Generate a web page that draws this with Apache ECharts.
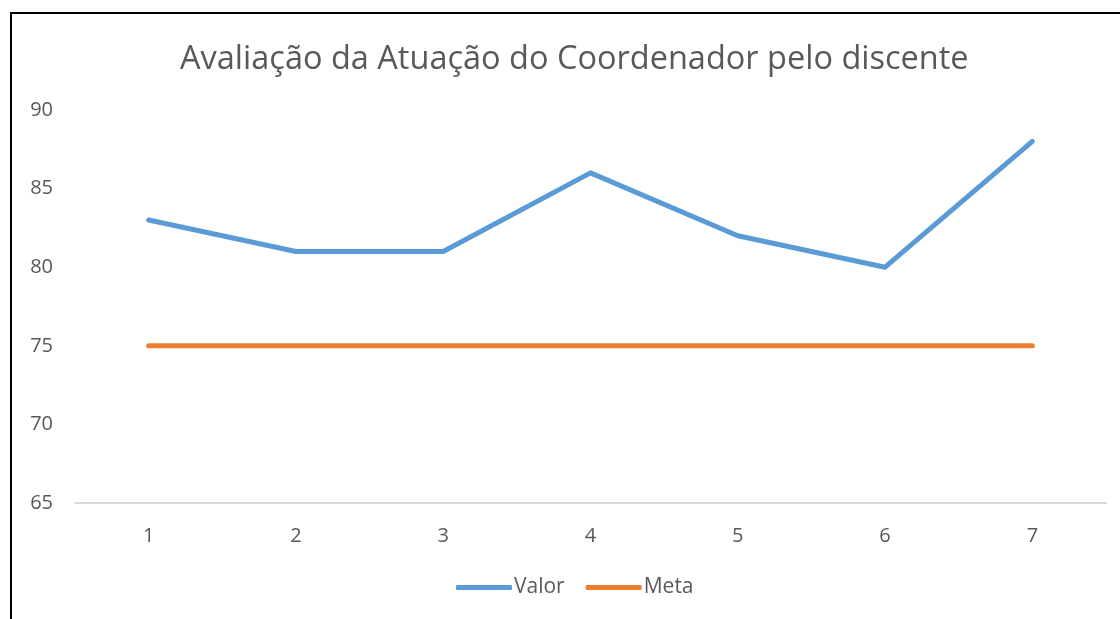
<!DOCTYPE html>
<html>
<head>
<meta charset="utf-8">
<script src="https://cdn.jsdelivr.net/npm/echarts@6/dist/echarts.min.js"></script>
<style>
  html, body { margin: 0; padding: 0; background: #fff; }
  #chart { width: 1120px; height: 619px; }
</style>
</head>
<body>
<div id="chart"></div>
<script>
// dados
const categorias = ['1', '2', '3', '4', '5', '6', '7'];
const valor = [83, 81, 81, 86, 82, 80, 88];
const meta = [75, 75, 75, 75, 75, 75, 75];

const chart = echarts.init(document.getElementById('chart'));
const fonte = '"Open Sans", "Noto Sans", sans-serif';

const option = {
  animation: false,
  textStyle: { fontFamily: fonte },
  title: {
    text: 'Avaliação da Atuação do Coordenador pelo discente',
    left: 175,
    top: 38,
    textStyle: { fontFamily: fonte, fontSize: 32.5, fontWeight: 'normal', color: '#595959' }
  },
  legend: {
    bottom: 16,
    left: 451,
    itemWidth: 56,
    itemHeight: 5,
    itemGap: 21,
    icon: 'roundRect',
    textStyle: { fontFamily: fonte, fontSize: 21, color: '#595959', padding: [0, 0, 0, -3] },
    data: ['Valor', 'Meta']
  },
  grid: { left: 75, right: 14, top: 110, bottom: 116 },
  xAxis: {
    type: 'category',
    data: categorias,
    boundaryGap: true,
    axisLine: { lineStyle: { color: '#d9d9d9', width: 2 } },
    axisTick: { show: false },
    axisLabel: { fontFamily: fonte, fontSize: 20, color: '#595959', margin: 23 }
  },
  yAxis: {
    type: 'value',
    min: 65,
    max: 90,
    interval: 5,
    splitLine: { show: false },
    axisLine: { show: false },
    axisTick: { show: false },
    axisLabel: { fontFamily: fonte, fontSize: 20, color: '#595959', margin: 22 }
  },
  series: [
    {
      name: 'Valor',
      type: 'line',
      data: valor,
      showSymbol: false,
      symbol: 'none',
      lineStyle: { width: 5, color: '#5B9BD5', cap: 'round', join: 'round' },
      itemStyle: { color: '#5B9BD5' }
    },
    {
      name: 'Meta',
      type: 'line',
      data: meta,
      showSymbol: false,
      symbol: 'none',
      lineStyle: { width: 5, color: '#ED7D31', cap: 'round', join: 'round' },
      itemStyle: { color: '#ED7D31' }
    }
  ],
  graphic: [
    {
      type: 'rect',
      silent: true,
      shape: { x: 11, y: 13, width: 1200, height: 700 },
      style: { fill: null, stroke: '#000', lineWidth: 2 }
    }
  ]
};

chart.setOption(option);
</script>
</body>
</html>
